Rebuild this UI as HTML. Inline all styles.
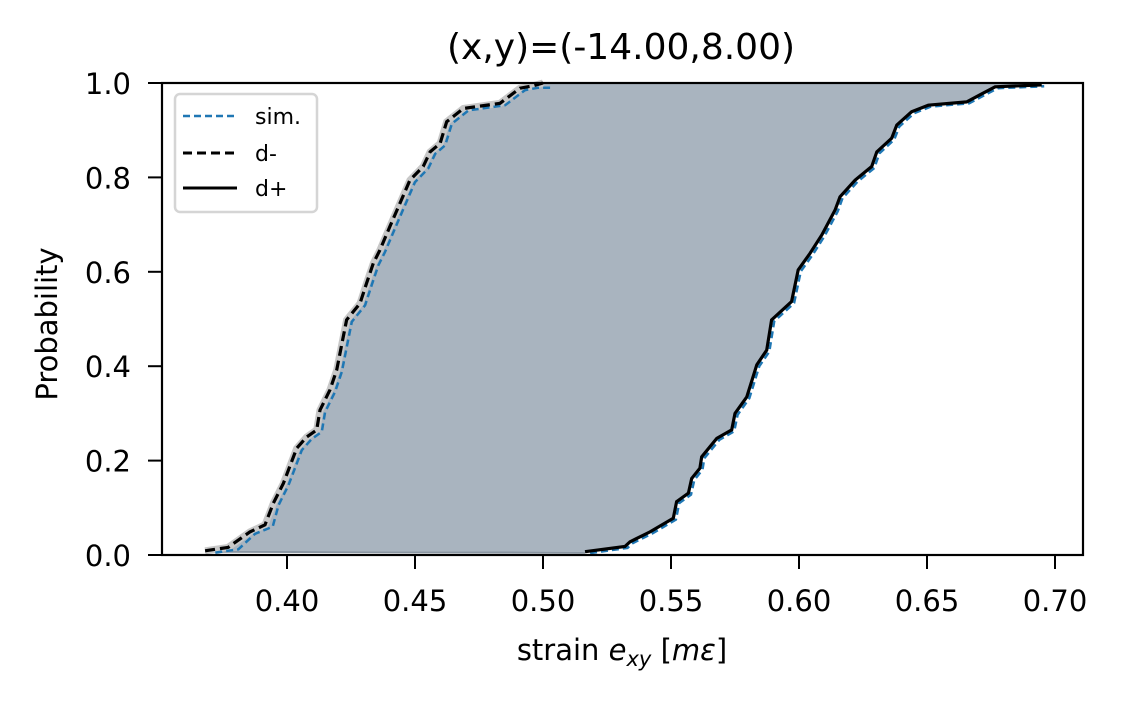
<!DOCTYPE html>
<html><head><meta charset="utf-8"><style>
body{margin:0;background:#fff;}
svg text{font-family:"DejaVu Sans","Liberation Sans",sans-serif;fill:#000;}
</style></head><body>
<svg id="chart" width="1122" height="706" viewBox="0 0 1122 706" xmlns="http://www.w3.org/2000/svg">
<rect width="1122" height="706" fill="#fff"/>
<g id="plot"></g>
<rect x="162" y="83" width="921" height="472" fill="none" stroke="#000" stroke-width="2.2"/>
<g id="ticks"></g>
<text x="621" y="59" font-size="36" text-anchor="middle">(x,y)=(-14.00,8.00)</text>
<text x="0" y="0" font-size="29" text-anchor="middle" transform="translate(57,324) rotate(-90)">Probability</text>
<text x="622" y="660" font-size="29" text-anchor="middle">strain <tspan font-style="italic">e</tspan><tspan font-style="italic" font-size="21" dy="6">xy</tspan><tspan dy="-6"> [</tspan><tspan font-style="italic">mε</tspan>]</text>
<g>
<rect x="175" y="94" width="142" height="118" rx="5" fill="#fff" fill-opacity="0.8" stroke="#d5d5d5" stroke-width="2.5"/>
<line x1="183" y1="116" x2="237" y2="116" stroke="#1f77b4" stroke-width="2.5" stroke-dasharray="7,4"/>
<text x="255" y="124" font-size="22">sim.</text>
<line x1="183" y1="153" x2="237" y2="153" stroke="#000" stroke-width="3" stroke-dasharray="9,5"/>
<text x="255" y="161" font-size="22">d-</text>
<line x1="183" y1="188" x2="237" y2="188" stroke="#000" stroke-width="3"/>
<text x="255" y="196" font-size="22">d+</text>
</g>
</svg>
<script>
const xTicks=[0.40,0.45,0.50,0.55,0.60,0.65,0.70];
const xTickLabels=["0.40","0.45","0.50","0.55","0.60","0.65","0.70"];
const yTicks=[0,0.2,0.4,0.6,0.8,1.0];
const yTickLabels=["0.0","0.2","0.4","0.6","0.8","1.0"];
const dMinusX=[0.368,0.377,0.3855,0.3914,0.3947,0.3986,0.4038,0.4077,0.4116,0.4129,0.4168,0.4194,0.4233,0.4285,0.4311,0.4337,0.4363,0.4402,0.4441,0.448,0.4532,0.4559,0.4598,0.4624,0.4689,0.4832,0.491,0.4962,0.50];
const dMinusP=[0.009,0.016,0.049,0.064,0.11,0.152,0.226,0.25,0.265,0.307,0.35,0.392,0.498,0.533,0.576,0.618,0.646,0.696,0.745,0.794,0.823,0.854,0.872,0.918,0.946,0.957,0.989,0.994,1.0];
const simLeftX=[0.372,0.381,0.3875,0.3944,0.3967,0.4006,0.4058,0.4097,0.4136,0.4149,0.4188,0.4214,0.4253,0.4305,0.4331,0.4357,0.4383,0.4422,0.4461,0.450,0.4552,0.4579,0.4618,0.4644,0.4709,0.4852,0.493,0.4982,0.504];
const simLeftP=[0.005,0.012,0.045,0.06,0.106,0.148,0.222,0.246,0.261,0.303,0.346,0.388,0.494,0.529,0.572,0.614,0.642,0.692,0.741,0.79,0.819,0.85,0.868,0.914,0.942,0.953,0.985,0.99,0.99];
const dPlusX=[0.5164,0.532,0.534,0.5418,0.5509,0.5522,0.5568,0.5581,0.5613,0.562,0.5679,0.5737,0.575,0.5796,0.5835,0.5874,0.5893,0.5971,0.5997,0.6043,0.6089,0.6141,0.616,0.6219,0.6284,0.6304,0.6362,0.6382,0.644,0.6505,0.6655,0.6707,0.6766,0.6948];
const dPlusP=[0.007,0.018,0.028,0.049,0.078,0.113,0.131,0.162,0.184,0.208,0.247,0.265,0.30,0.335,0.403,0.434,0.498,0.537,0.604,0.639,0.678,0.731,0.759,0.794,0.823,0.854,0.883,0.911,0.939,0.953,0.960,0.975,0.992,0.996];
const simRightX=[0.5184,0.533,0.535,0.5428,0.5519,0.5532,0.5578,0.5591,0.5623,0.563,0.5689,0.5747,0.576,0.5806,0.5845,0.5884,0.5903,0.5981,0.6007,0.6053,0.6099,0.6151,0.617,0.6229,0.6294,0.6314,0.6372,0.6392,0.645,0.6515,0.6665,0.6717,0.6776,0.6958];
const simRightP=[0.004,0.015,0.025,0.046,0.075,0.11,0.128,0.159,0.181,0.205,0.244,0.262,0.297,0.332,0.4,0.431,0.495,0.534,0.601,0.636,0.675,0.728,0.756,0.791,0.82,0.851,0.88,0.908,0.936,0.95,0.957,0.972,0.989,0.993];

const NS='http://www.w3.org/2000/svg';
const X=v=>287+(v-0.40)*2560;
const Y=p=>555-p*472;
function mk(tag,attrs,parent){const e=document.createElementNS(NS,tag);for(const k in attrs)e.setAttribute(k,attrs[k]);parent.appendChild(e);return e;}
function pts(xs,ps){return xs.map((x,i)=>X(x).toFixed(1)+','+Y(ps[i]).toFixed(1));}
const plot=document.getElementById('plot');
const ticks=document.getElementById('ticks');

const fillPts=pts(dMinusX,dMinusP).concat([X(dPlusX[dPlusX.length-1]).toFixed(1)+','+Y(1).toFixed(1)]).concat(pts(dPlusX,dPlusP).reverse());
const fill=mk('polygon',{points:fillPts.join(' '),fill:'#a9b4bf'},plot);



const base=mk('line',{x1:X(dMinusX[0]),x2:X(dPlusX[0]),y1:Y(dMinusP[0])+1,y2:Y(dPlusP[0])+1,stroke:'#8a96a2','stroke-width':2},plot);



const halo=mk('polyline',{points:pts(dMinusX,dMinusP).join(' '),fill:'none',stroke:'#c8c8c8','stroke-width':7},plot);



const s1=mk('polyline',{points:pts(simLeftX,simLeftP).join(' '),fill:'none',stroke:'#1f77b4','stroke-width':2.5,'stroke-dasharray':'7,4'},plot);


const s2=mk('polyline',{points:pts(simRightX,simRightP).join(' '),fill:'none',stroke:'#1f77b4','stroke-width':2.5,'stroke-dasharray':'7,4'},plot);



const dm=mk('polyline',{points:pts(dMinusX,dMinusP).join(' '),fill:'none',stroke:'#000','stroke-width':3.2,'stroke-dasharray':'10,5'},plot);


const dp=mk('polyline',{points:pts(dPlusX,dPlusP).join(' '),fill:'none',stroke:'#000','stroke-width':3.2},plot);



xTicks.forEach((v,i)=>{
  const l=mk('line',{x1:X(v),x2:X(v),y1:555,y2:569,stroke:'#000','stroke-width':2},ticks);
  
  
  const t=mk('text',{x:X(v),y:611,'font-size':29,'text-anchor':'middle'},ticks);
  t.textContent=xTickLabels[i];
  
  
});
yTicks.forEach((v,i)=>{
  const l=mk('line',{x1:148,x2:162,y1:Y(v),y2:Y(v),stroke:'#000','stroke-width':2},ticks);
  
  
  const t=mk('text',{x:131,y:Y(v)+11,'font-size':29,'text-anchor':'end'},ticks);
  t.textContent=yTickLabels[i];
  
  
});
</script>
</body></html>
